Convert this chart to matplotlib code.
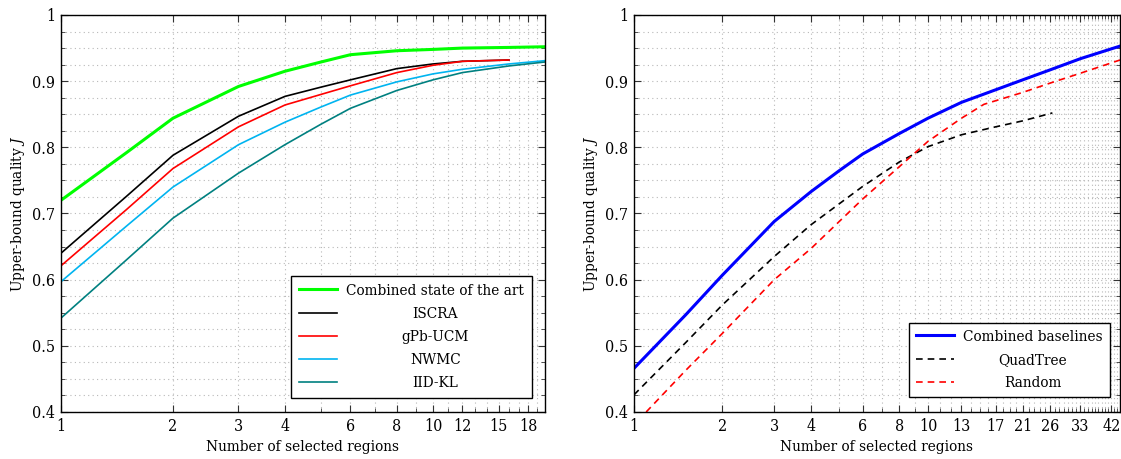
import matplotlib
matplotlib.use("Agg")
import matplotlib.pyplot as plt
from matplotlib.ticker import FixedLocator, FixedFormatter, MultipleLocator, NullFormatter
from matplotlib.offsetbox import TextArea
from matplotlib.transforms import Bbox

plt.rcParams['font.family'] = 'DejaVu Serif'
plt.rcParams['font.stretch'] = 'condensed'
plt.rcParams['mathtext.fontset'] = 'dejavuserif'

FS = 11

# ---------------- Left panel data ----------------
left_x = [1, 1.5, 2, 3, 4, 5, 6, 8, 10, 12, 16, 20]
left_x_short = [1, 1.5, 2, 3, 4, 5, 6, 8, 10, 12, 16]
combined_sota = [0.720, 0.792, 0.844, 0.892, 0.915, 0.929, 0.940, 0.946, 0.948, 0.950, 0.951, 0.952]
iscra = [0.640, 0.726, 0.788, 0.847, 0.877, 0.891, 0.902, 0.919, 0.926, 0.930, 0.932]
gpb_ucm = [0.621, 0.706, 0.768, 0.831, 0.864, 0.880, 0.893, 0.913, 0.924, 0.930, 0.932]
nwmc = [0.597, 0.681, 0.740, 0.804, 0.838, 0.861, 0.879, 0.899, 0.911, 0.918, 0.926, 0.931]
iid_kl = [0.542, 0.630, 0.693, 0.761, 0.804, 0.835, 0.859, 0.886, 0.902, 0.913, 0.923, 0.929]
left_ticks = [1, 2, 3, 4, 6, 8, 10, 12, 15, 18]

# ---------------- Right panel data ----------------
blue_x = [1, 1.5, 2, 3, 4, 5, 6, 8, 10, 13, 17, 21, 26, 33, 45]
combined_baselines = [0.466, 0.547, 0.607, 0.688, 0.733, 0.765, 0.790, 0.821, 0.844, 0.868, 0.887, 0.902, 0.917, 0.934, 0.953]
quad_x = [1, 1.5, 2, 3, 4, 6, 8, 10, 13, 17, 21, 26.5]
quadtree = [0.426, 0.505, 0.562, 0.635, 0.683, 0.741, 0.778, 0.801, 0.819, 0.831, 0.840, 0.852]
rand_x = [1.1, 1.5, 2, 3, 4, 6, 8, 10, 13, 15.5, 21, 26, 33, 45]
random_vals = [0.400, 0.463, 0.519, 0.600, 0.647, 0.722, 0.771, 0.809, 0.844, 0.865, 0.883, 0.897, 0.912, 0.932]
right_ticks = [1, 2, 3, 4, 6, 8, 10, 13, 17, 21, 26, 33, 42]

W, H = 1121, 459
fig = plt.figure(figsize=(W / 100, H / 100), dpi=100)
axL = fig.add_axes([61 / W, 1 - 412 / H, 484 / W, 397 / H])
axR = fig.add_axes([634 / W, 1 - 412 / H, 486 / W, 397 / H])

lw_thin = 1.2
lw_thick = 2.2
axL.plot(left_x, combined_sota, color='#00ff00', lw=lw_thick, label='Combined state of the art')
axL.plot(left_x_short, iscra, color='black', lw=lw_thin, label='ISCRA')
axL.plot(left_x_short, gpb_ucm, color='#ff0000', lw=lw_thin, label='gPb-UCM')
axL.plot(left_x, nwmc, color='#00b4f0', lw=lw_thin, label='NWMC')
axL.plot(left_x, iid_kl, color='#008080', lw=lw_thin, label='IID-KL')

axR.plot(blue_x, combined_baselines, color='#0000ff', lw=lw_thick, label='Combined baselines')
axR.plot(quad_x, quadtree, color='black', lw=lw_thin, ls=(0, (4, 3)), label='QuadTree')
axR.plot(rand_x, random_vals, color='#ff0000', lw=lw_thin, ls=(0, (4, 3)), label='Random')


def style(ax, xmax, ticks):
    ax.set_xscale('log')
    ax.set_xlim(1, xmax)
    ax.set_ylim(0.4, 1.0)
    ax.xaxis.set_major_locator(FixedLocator(ticks))
    ax.xaxis.set_major_formatter(FixedFormatter([str(t) for t in ticks]))
    ax.xaxis.set_minor_locator(FixedLocator([i for i in range(1, int(xmax) + 1) if i not in ticks]))
    ax.xaxis.set_minor_formatter(NullFormatter())
    ax.yaxis.set_major_locator(MultipleLocator(0.1))
    ax.yaxis.set_minor_locator(MultipleLocator(0.025))
    ax.yaxis.set_major_formatter(plt.FuncFormatter(lambda v, p: '1' if abs(v - 1) < 1e-9 else f'{v:.1f}'))
    ax.tick_params(which='both', direction='in', top=True, right=True, labelsize=FS + 0.5, color='#333333')
    ax.tick_params(which='major', length=5, width=0.8, pad=4)
    ax.tick_params(which='minor', length=3, width=0.6)
    ax.grid(True, which='both', ls=(0, (1, 3)), color='#b8b8b8', lw=0.8)
    ax.set_axisbelow(True)
    for s in ax.spines.values():
        s.set_linewidth(1.0)
    ax.set_xlabel('Number of selected regions', fontsize=FS, labelpad=4)
    ax.set_ylabel('Upper-bound quality $J$', fontsize=FS, labelpad=4)


style(axL, 20, left_ticks)
style(axR, 45, right_ticks)


def center_legend(leg):
    tas = [c for c in leg.findobj(TextArea) if c.get_text() != '']
    for t in tas:
        t._text.set_horizontalalignment('center')
    origs = [t.get_bbox for t in tas]

    def make(orig):
        def nb(renderer):
            Wd = max(o(renderer).width for o in origs)
            b = orig(renderer)
            return Bbox.from_bounds(-Wd / 2, b.y0, Wd, b.height)
        return nb
    for t, o in zip(tas, origs):
        t.get_bbox = make(o)


legL = axL.legend(loc='lower right', bbox_to_anchor=(0.973, 0.035), borderaxespad=0, fontsize=FS,
                  frameon=True, fancybox=False, edgecolor='black', framealpha=1, handlelength=2.5,
                  labelspacing=0.6, borderpad=0.5, handletextpad=0.6)
legL.get_frame().set_linewidth(1.0)
center_legend(legL)
legR = axR.legend(loc='lower right', bbox_to_anchor=(0.979, 0.038), borderaxespad=0, fontsize=FS,
                  frameon=True, fancybox=False, edgecolor='black', framealpha=1, handlelength=2.5,
                  labelspacing=0.6, borderpad=0.45, handletextpad=0.6)
legR.get_frame().set_linewidth(1.0)
center_legend(legR)

fig.savefig('out.png', dpi=100)
